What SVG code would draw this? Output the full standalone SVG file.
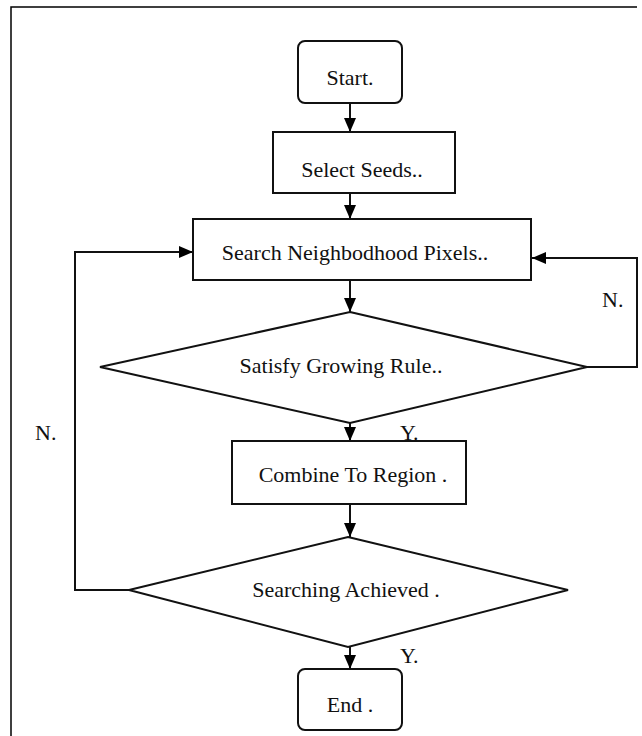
<svg xmlns="http://www.w3.org/2000/svg" width="642" height="736" viewBox="0 0 642 736">
<defs>
<marker id="ah" markerWidth="14" markerHeight="12" refX="14" refY="6" orient="auto" markerUnits="userSpaceOnUse">
<path d="M0,0 L14,6 L0,12 Z" fill="#000"/>
</marker>
<style>
.n{fill:#fff;stroke:#111;stroke-width:2}
.t{font-family:"Liberation Serif","Times New Roman",serif;font-size:22px;fill:#111;text-anchor:middle}
.l{font-family:"Liberation Serif","Times New Roman",serif;font-size:22px;fill:#111}
.c{fill:none;stroke:#111;stroke-width:2;marker-end:url(#ah)}
.b{fill:none;stroke:#000;stroke-width:1.5}
</style>
</defs>
<rect width="642" height="736" fill="#fff"/>
<path class="b" d="M11,736 L11,7 L637,7"/>
<g id="connectors">
<path class="c" d="M350,103 L350,132"/>
<path class="c" d="M350,193 L350,219"/>
<path class="c" d="M350,280 L350,312"/>
<path class="c" d="M350,423 L350,441"/>
<path class="c" d="M350,504 L350,537"/>
<path class="c" d="M350,647 L350,669"/>
<path class="c" d="M587,367 L637,367 L637,258 L532,258"/>
<path class="c" d="M129,590 L75,590 L75,252 L193,252"/>
</g>
<g id="start">
<rect class="n" x="298" y="41" width="104" height="62" rx="7"/>
<text class="t" x="350" y="85">Start.</text>
</g>
<g id="select">
<rect class="n" x="273" y="132" width="182" height="61"/>
<text class="t" x="362" y="177">Select Seeds..</text>
</g>
<g id="search">
<rect class="n" x="193" y="219" width="338" height="61"/>
<text class="t" x="355" y="260">Search Neighbodhood Pixels..</text>
</g>
<g id="satisfy">
<polygon class="n" points="350,312 587,367 350,423 100,367"/>
<text class="t" x="341" y="373">Satisfy Growing Rule..</text>
</g>
<g id="combine">
<rect class="n" x="232" y="441" width="234" height="63"/>
<text class="t" x="353" y="482">Combine To Region .</text>
</g>
<g id="achieved">
<polygon class="n" points="348,537 568,590 348,647 129,590"/>
<text class="t" x="346" y="597">Searching Achieved .</text>
</g>
<g id="end">
<rect class="n" x="298" y="669" width="104" height="61" rx="7"/>
<text class="t" x="350" y="712">End .</text>
</g>
<g id="labels">
<text class="l" x="602" y="307">N.</text>
<text class="l" x="35" y="440">N.</text>
<text class="l" x="400" y="440">Y.</text>
<text class="l" x="400" y="663">Y.</text>
</g>
</svg>
